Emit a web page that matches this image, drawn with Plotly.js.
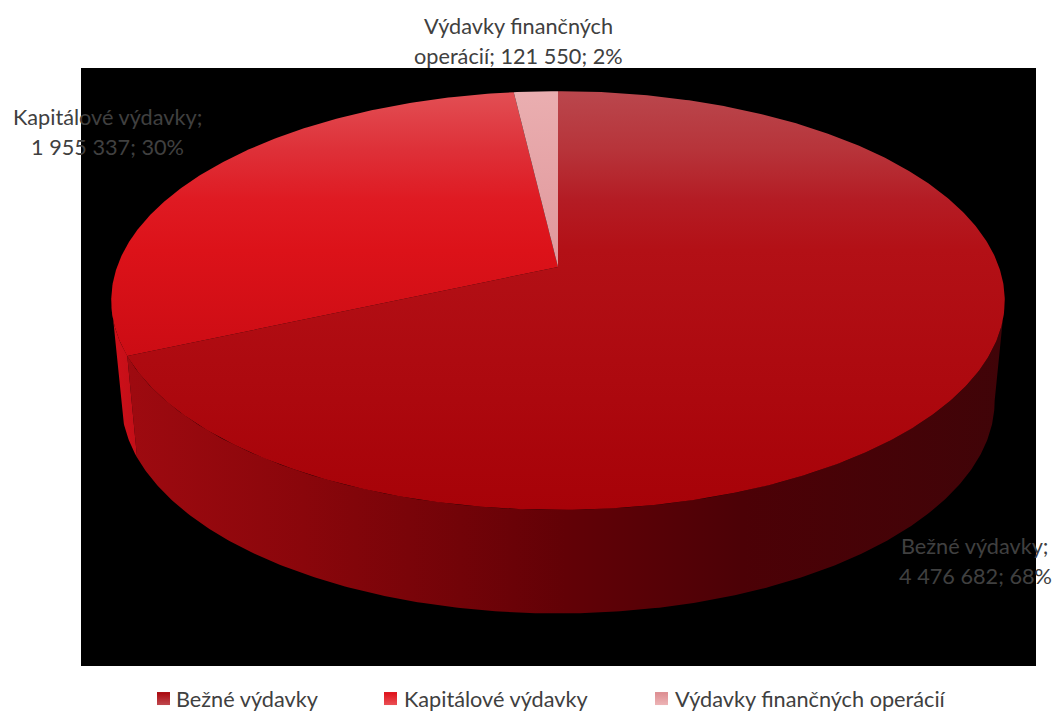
<!DOCTYPE html>
<html>
<head>
<meta charset="utf-8">
<script src="https://cdn.plot.ly/plotly-3.0.1.min.js"></script>
<style>html,body{margin:0;padding:0;background:#fff}#chart{width:1053px;height:713px}</style>
</head>
<body>
<div id="chart"></div>
<script>
// Data
const categories = ['Bežné výdavky', 'Kapitálové výdavky', 'Výdavky finančných operácií'];
const values = [4476682, 1955337, 121550];
const labelBreaks = [
  ['Bežné výdavky;', '{v}; {p}'],
  ['Kapitálové výdavky;', '{v}; {p}'],
  ['Výdavky finančných', 'operácií; {v}; {p}']
];

// Styling
const W = 1053, H = 713;
const FONT = 'Lato, Carlito, sans-serif';
const TEXT = '#404040';
const topGradients = [
  [[0, '#ba474d'], [0.14, '#b7343a'], [0.26, '#b41c24'], [0.38, '#b31016'], [1, '#a70208']],
  [[0, '#e24f54'], [0.22, '#de3038'], [0.41, '#df1a22'], [0.6, '#dc1219'], [1, '#cc0c14']],
  [[0, '#eaaeb0'], [1, '#e0979b']]
];
const sideGradients = [
  [[0, '#9e0a10'], [0.2, '#8a060b'], [0.5, '#620106'], [0.7, '#4c0106'], [1, '#400408']],
  [[0, '#d0101a'], [1, '#c20e17']],
  [[0, '#c0787c'], [1, '#c0787c']]
];
const swatchColors = [['#a9060c', '#bf484e'], ['#de0f18', '#ea5055'], ['#dc8c90', '#edb4b6']];

// Perspective model of the pie: circle -> picture
const CX = 558, K = 0.16;
const topDisc = {y0: 267, A: 204, B: 441};
const botDisc = {y0: 367, A: 207, B: 431};
function project(d, deg) {
  const t = deg * Math.PI / 180, u = Math.sin(t), v = Math.cos(t), w = 1 + K * v;
  return [CX + d.B * u / w, d.y0 - d.A * v / w];
}
function arc(d, a, b) {
  const n = Math.max(2, Math.ceil(Math.abs(b - a) * 2)), pts = [];
  for (let i = 0; i <= n; i++) pts.push(project(d, a + (b - a) * i / n));
  return pts;
}
function poly(pts, grad, type, start, stop) {
  return {
    type: 'scatter', mode: 'lines', x: pts.map(p => p[0]), y: pts.map(p => p[1]),
    fill: 'toself', line: {width: 0}, showlegend: false, hoverinfo: 'skip',
    fillgradient: {type: type, start: start, stop: stop, colorscale: grad}
  };
}

const total = values.reduce((a, b) => a + b, 0);
const edges = [0];
values.forEach((v, i) => edges.push(edges[i] + v / total * 360));
const rightLimit = Math.acos(-K) * 180 / Math.PI;
const leftLimit = 360 - rightLimit;

const traces = [];
// side walls
values.forEach((v, i) => {
  const a = Math.max(edges[i], rightLimit), b = Math.min(edges[i + 1], leftLimit);
  if (b <= a) return;
  const pts = arc(topDisc, a, b).concat(arc(botDisc, b, a));
  const xs = pts.map(p => p[0]);
  traces.push(poly(pts, sideGradients[i], 'horizontal', Math.min(...xs), Math.max(...xs)));
});
// top faces
values.forEach((v, i) => {
  const pts = [[CX, topDisc.y0]].concat(arc(topDisc, edges[i], edges[i + 1]));
  pts.push([CX, topDisc.y0]);
  const ys = pts.map(p => p[1]);
  traces.push(poly(pts, topGradients[i], 'vertical', Math.min(...ys), Math.max(...ys)));
});
// legend entries
categories.forEach((c, i) => traces.push({
  type: 'scatter', mode: 'markers', name: c, x: [null], y: [null], showlegend: true,
  marker: {symbol: 'square', size: 13, color: swatchColors[i][0],
           gradient: {type: 'vertical', color: swatchColors[i][1]}, line: {width: 0}}
}));

// data labels
const fmt = n => String(n).replace(/\B(?=(\d{3})+(?!\d))/g, ' ');
const labelPos = [[975, 546, 576], [107, 117, 147], [518, 26, 56]];
const annotations = [];
labelBreaks.forEach((lines, i) => lines.forEach((ln, j) => annotations.push({
  xref: 'paper', yref: 'paper', x: labelPos[i][0] / W, y: 1 - labelPos[i][j + 1] / H, showarrow: false,
  xanchor: 'center', yanchor: 'middle',
  text: ln.replace('{v}', fmt(values[i])).replace('{p}', Math.round(values[i] / total * 100) + '%'),
  font: {family: FONT, size: 21.7, color: TEXT}
})));

const layout = {
  width: W, height: H, autosize: false,
  margin: {l: 0, r: 0, t: 0, b: 0, pad: 0},
  paper_bgcolor: '#ffffff', plot_bgcolor: '#000000',
  xaxis: {domain: [81 / W, 1036 / W], range: [81, 1036], visible: false, fixedrange: true},
  yaxis: {domain: [1 - 666 / H, 1 - 68 / H], range: [666, 68], visible: false, fixedrange: true},
  annotations: annotations,
  showlegend: true,
  legend: {orientation: 'h', x: 0.5, xanchor: 'center', y: 0.07, yanchor: 'middle',
           font: {family: FONT, size: 21.7, color: TEXT}, bgcolor: 'rgba(0,0,0,0)',
           itemclick: false, itemdoubleclick: false}
};

// Legend entries sit at the reference's spacing: [swatch centre, text start], row centre
const legendSlots = [[163.5, 176], [390.5, 404], [661.5, 675]];
const legendRowY = 699;
Plotly.newPlot('chart', traces, layout, {displayModeBar: false}).then(gd => {
  const box = gd.querySelector('.legend .scrollbox');
  if (box) box.removeAttribute('clip-path');
  const lg = gd.querySelector('.legend');
  if (lg) lg.style.overflow = 'visible';
  gd.querySelectorAll('.legend .traces').forEach((g, i) => {
    const m = /translate\(\s*([-\d.]+)[ ,]+([-\d.]+)/.exec(g.getAttribute('transform'));
    const txt = g.querySelector('.legendtext');
    const tr = txt.getBoundingClientRect();
    const dx = legendSlots[i][1] - tr.left;
    const dy = legendRowY - (tr.top + tr.bottom) / 2;
    g.setAttribute('transform', 'translate(' + (parseFloat(m[1]) + dx) + ',' + (parseFloat(m[2]) + dy) + ')');
    const sym = g.querySelector('.legendsymbols');
    const r = sym.querySelector('path').getBoundingClientRect();
    sym.setAttribute('transform', 'translate(' + (legendSlots[i][0] - (r.left + r.right) / 2) + ',0)');
  });
});
</script>
</body>
</html>
